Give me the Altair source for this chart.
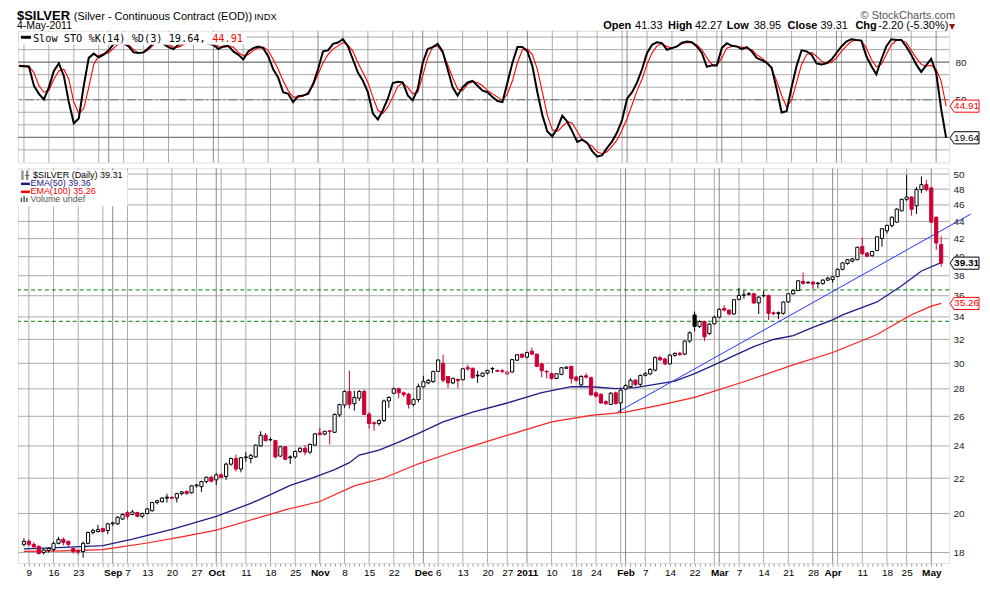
import json
import numpy as np
import pandas as pd
import altair as alt

# ---------------- calendar (x categories) ----------------
HOLIDAYS = ["2010-09-06", "2010-11-25", "2010-12-24", "2010-12-31",
            "2011-01-17", "2011-02-21", "2011-04-22"]
DAYS = [d for d in pd.bdate_range("2010-08-06", "2011-05-04")
        if d.strftime("%Y-%m-%d") not in HOLIDAYS]

TICK_DATES = ["2010-08-09", "2010-08-16", "2010-08-23", "2010-09-01", "2010-09-07", "2010-09-13",
              "2010-09-20", "2010-09-27", "2010-10-01", "2010-10-11", "2010-10-18", "2010-10-25",
              "2010-11-01", "2010-11-08", "2010-11-15", "2010-11-22", "2010-12-01", "2010-12-06",
              "2010-12-13", "2010-12-20", "2010-12-27", "2011-01-03", "2011-01-10", "2011-01-18",
              "2011-01-24", "2011-02-01", "2011-02-07", "2011-02-14", "2011-02-22", "2011-03-01",
              "2011-03-07", "2011-03-14", "2011-03-21", "2011-03-28", "2011-04-01", "2011-04-11",
              "2011-04-18", "2011-04-25", "2011-05-02"]
TICK_LABELS = ["9", "16", "23", "Sep", "7", "13", "20", "27", "Oct", "11", "18", "25",
               "Nov", "8", "15", "22", "Dec", "6", "13", "20", "27", "2011", "10", "18",
               "24", "Feb", "7", "14", "22", "Mar", "7", "14", "21", "28", "Apr", "11",
               "18", "25", "May"]

# ---------------- daily candles ----------------
OPEN = [18.40, 18.55, 18.40, 18.30, 18.00, 18.10, 18.15, 18.45, 18.65, 18.55,
        18.20, 18.08, 18.05, 18.45, 19.00, 19.05, 19.20, 19.10, 19.45, 19.45,
        19.70, 20.05, 19.95, 20.05, 19.85, 20.00, 20.15, 20.60, 20.65, 20.90,
        20.88, 20.85, 21.10, 21.22, 21.15, 21.55, 21.50, 21.80, 22.05, 21.90,
        22.20, 22.10, 22.85, 23.20, 22.55, 23.25, 23.20, 23.30, 24.00, 24.70,
        24.40, 24.35, 23.35, 23.95, 23.30, 23.30, 23.65, 23.85, 23.60, 24.05,
        24.85, 24.78, 25.00, 24.90, 26.10, 26.80, 27.80, 26.90, 27.30, 27.80,
        26.15, 25.55, 25.50, 25.70, 27.10, 27.67, 28.00, 27.70, 27.60, 26.85,
        27.20, 28.15, 28.45, 28.55, 29.35, 30.00, 28.95, 28.45, 28.72, 28.70,
        29.65, 29.60, 29.05, 28.97, 29.22, 29.55, 29.42, 29.40, 29.15, 29.30,
        30.25, 30.75, 30.50, 31.00, 30.75, 29.95, 29.35, 29.17, 28.80, 29.12,
        29.60, 29.75, 28.90, 28.30, 29.00, 28.85, 27.70, 27.60, 27.05, 26.85,
        27.70, 26.95, 27.98, 28.16, 28.66, 28.34, 29.04, 29.15, 29.45, 30.45,
        30.35, 29.95, 30.65, 30.82, 30.75, 31.86, 34.18, 33.14, 33.58, 32.51,
        33.37, 33.97, 34.79, 34.63, 34.27, 35.65, 36.05, 36.15, 36.19, 35.31,
        36.00, 36.03, 34.38, 34.30, 34.33, 35.40, 36.19, 36.51, 37.42, 37.28,
        37.35, 37.25, 37.20, 37.55, 37.61, 37.92, 38.66, 39.27, 39.52, 39.68,
        41.11, 40.40, 40.11, 40.68, 42.02, 42.90, 43.50, 43.91, 45.28, 46.70,
        46.99, 45.89, 47.95, 48.58, 48.16, 44.50, 41.33]
HIGH = [18.70, 18.65, 18.50, 18.35, 18.20, 18.25, 18.55, 18.78, 18.75, 18.60,
        18.25, 18.15, 18.55, 19.05, 19.20, 19.40, 19.25, 19.50, 19.55, 19.85,
        20.00, 20.15, 20.20, 20.10, 20.05, 20.30, 20.65, 20.75, 20.90, 21.10,
        20.95, 21.15, 21.25, 21.30, 21.60, 21.65, 21.85, 22.10, 22.15, 22.30,
        22.30, 22.95, 23.25, 23.45, 23.30, 23.60, 23.50, 24.10, 24.97, 24.85,
        24.55, 24.40, 24.00, 24.00, 23.40, 23.70, 23.90, 24.05, 24.15, 24.85,
        25.20, 25.00, 25.05, 26.20, 26.90, 27.90, 29.40, 27.85, 27.90, 27.95,
        26.30, 25.65, 25.80, 27.20, 27.45, 28.10, 28.10, 27.80, 27.70, 27.30,
        28.40, 29.00, 28.75, 29.40, 30.30, 30.70, 29.00, 28.85, 28.80, 29.60,
        29.90, 29.65, 29.40, 29.25, 29.45, 29.70, 29.50, 29.55, 29.35, 30.35,
        30.75, 30.80, 30.95, 31.30, 30.80, 30.05, 29.45, 29.25, 29.20, 29.70,
        29.75, 29.80, 29.00, 29.05, 29.20, 28.95, 27.80, 27.65, 27.15, 27.75,
        27.80, 27.95, 28.35, 28.80, 28.75, 29.10, 29.30, 29.60, 30.55, 30.60,
        30.45, 30.75, 30.90, 30.95, 31.90, 32.70, 34.50, 33.70, 33.65, 33.45,
        34.10, 34.80, 35.09, 34.70, 35.70, 36.77, 36.51, 36.35, 36.30, 35.95,
        36.51, 36.10, 34.50, 34.50, 35.45, 36.25, 36.60, 37.55, 38.32, 37.45,
        37.45, 37.35, 37.65, 37.90, 37.95, 38.75, 39.40, 39.75, 39.85, 41.10,
        42.10, 40.50, 40.65, 42.25, 43.20, 43.60, 44.60, 45.60, 46.80, 49.88,
        47.10, 48.30, 49.67, 49.23, 48.30, 44.60, 42.27]
LOW = [18.30, 18.30, 18.20, 17.90, 17.90, 18.00, 18.05, 18.40, 18.35, 18.25,
       17.95, 17.90, 17.75, 18.40, 18.90, 19.00, 19.00, 18.90, 19.35, 19.40,
       19.65, 19.70, 19.90, 19.80, 19.75, 19.95, 20.10, 20.50, 20.60, 20.60,
       20.80, 20.60, 21.00, 21.05, 21.10, 21.45, 21.20, 21.70, 21.75, 21.60,
       22.00, 21.90, 22.75, 22.40, 22.35, 23.00, 22.90, 23.25, 23.95, 24.30,
       24.30, 23.20, 23.30, 23.10, 22.85, 23.20, 23.55, 23.40, 23.50, 24.00,
       24.70, 24.70, 24.10, 24.85, 25.95, 26.60, 26.55, 26.40, 27.10, 26.10,
       25.15, 25.00, 25.35, 25.60, 26.60, 27.60, 27.30, 27.40, 26.55, 26.70,
       27.00, 28.10, 28.35, 28.45, 29.30, 28.50, 28.05, 28.35, 28.05, 28.65,
       29.40, 28.80, 28.45, 28.90, 29.10, 29.20, 29.30, 29.20, 29.10, 29.25,
       30.20, 30.40, 30.40, 30.70, 29.70, 28.90, 28.80, 28.70, 28.75, 29.05,
       29.55, 28.40, 28.55, 28.20, 28.80, 27.50, 27.35, 26.90, 26.80, 26.80,
       26.85, 26.25, 27.90, 28.05, 28.20, 28.16, 28.95, 29.05, 29.35, 30.20,
       29.85, 29.90, 30.55, 30.60, 30.65, 31.70, 32.70, 33.00, 31.85, 32.40,
       33.30, 33.90, 34.50, 34.15, 34.20, 35.55, 35.71, 36.00, 35.20, 34.27,
       35.85, 33.73, 34.15, 33.79, 34.20, 35.30, 36.10, 36.45, 37.10, 37.15,
       36.67, 36.70, 37.10, 37.45, 37.30, 37.85, 38.55, 39.15, 39.40, 39.60,
       40.20, 39.95, 40.00, 40.60, 41.10, 42.58, 43.30, 43.80, 45.20, 46.50,
       44.69, 44.89, 47.50, 47.70, 43.80, 40.75, 38.95]
CLOSE = [18.55, 18.40, 18.28, 17.95, 18.12, 18.20, 18.45, 18.65, 18.50, 18.40,
         18.05, 18.02, 18.45, 19.00, 19.10, 19.15, 19.05, 19.45, 19.50, 19.80,
         19.95, 19.85, 20.08, 19.85, 20.00, 20.25, 20.60, 20.70, 20.85, 20.85,
         20.84, 21.10, 21.20, 21.10, 21.55, 21.60, 21.80, 22.05, 21.82, 22.20,
         22.05, 22.85, 23.20, 22.55, 23.25, 23.30, 23.38, 24.05, 24.70, 24.35,
         24.42, 23.30, 23.95, 23.15, 23.25, 23.65, 23.85, 23.60, 24.10, 24.80,
         24.75, 24.97, 24.95, 26.13, 26.83, 27.80, 26.85, 27.35, 27.80, 26.13,
         25.50, 25.48, 25.70, 27.10, 27.35, 28.00, 27.70, 27.58, 26.85, 27.20,
         28.18, 28.55, 28.65, 29.35, 30.27, 28.66, 28.45, 28.80, 28.62, 29.56,
         29.55, 28.85, 29.00, 29.22, 29.43, 29.58, 29.36, 29.35, 29.30, 30.30,
         30.70, 30.50, 30.88, 30.75, 29.75, 29.40, 29.30, 28.80, 29.17, 29.64,
         29.69, 28.80, 28.66, 28.95, 28.90, 27.55, 27.45, 26.95, 26.90, 27.67,
         26.90, 27.90, 28.25, 28.66, 28.34, 29.04, 29.17, 29.51, 30.48, 30.27,
         29.95, 30.67, 30.81, 30.72, 31.86, 32.57, 33.14, 33.58, 32.22, 33.35,
         33.97, 34.70, 34.63, 34.27, 35.62, 36.03, 36.09, 36.20, 35.31, 35.87,
         36.03, 34.33, 34.30, 34.39, 35.40, 36.19, 36.51, 37.48, 37.22, 37.32,
         37.15, 37.20, 37.55, 37.75, 37.88, 38.66, 39.34, 39.68, 39.76, 41.03,
         40.32, 40.04, 40.57, 42.21, 43.14, 43.53, 44.50, 45.48, 46.70, 46.99,
         45.48, 47.95, 48.58, 47.95, 43.91, 41.51, 39.31]

# ---------------- slow stochastic ----------------
STO_K = [76.9, 76.8, 76.3, 61.2, 54.7, 50.3, 59.9, 73.0, 79.0, 69.0,
         48.2, 31.2, 35.1, 61.2, 83.4, 86.8, 83.9, 86.0, 89.4, 94.6,
         95.0, 95.0, 92.5, 87.8, 87.3, 87.8, 91.2, 95.6, 98.0, 94.6,
         92.0, 90.4, 93.8, 95.0, 97.0, 98.0, 98.0, 96.0, 94.6, 93.8,
         90.4, 92.5, 93.0, 88.6, 86.0, 82.1, 88.6, 91.2, 92.5, 91.2,
         84.7, 74.3, 67.7, 56.0, 54.7, 48.2, 52.9, 53.4, 54.7, 62.5,
         74.3, 88.6, 89.4, 94.6, 95.6, 98.3, 92.5, 82.1, 71.7, 65.1,
         56.0, 39.0, 34.3, 41.6, 50.8, 63.3, 64.3, 63.8, 53.4, 49.5,
         58.6, 79.5, 90.4, 92.0, 94.6, 88.6, 74.3, 59.9, 53.4, 59.9,
         63.8, 65.1, 61.2, 57.3, 56.0, 52.1, 49.0, 48.2, 63.8, 79.5,
         92.0, 92.0, 88.6, 76.9, 56.0, 37.7, 24.7, 20.8, 27.3, 37.2,
         32.5, 24.7, 16.3, 18.2, 15.6, 9.0, 4.6, 5.8, 11.6, 16.8,
         24.0, 33.8, 50.8, 56.0, 63.8, 74.3, 87.3, 93.8, 95.9, 95.1,
         89.9, 91.2, 92.5, 95.6, 96.4, 95.9, 92.5, 87.3, 76.3, 77.4,
         77.4, 91.2, 95.1, 93.0, 92.5, 90.4, 92.0, 88.6, 83.4, 81.6,
         79.5, 75.6, 58.6, 39.8, 40.9, 59.9, 76.9, 89.4, 88.6, 86.0,
         79.0, 78.2, 79.0, 82.1, 87.3, 92.5, 96.4, 98.3, 97.7, 97.2,
         84.7, 76.9, 70.3, 82.1, 92.5, 98.3, 97.7, 97.7, 92.5, 86.0,
         78.2, 72.2, 77.4, 82.6, 71.7, 42.9, 19.64]
STO_D = [77.4, 77.2, 76.9, 71.7, 61.2, 56.0, 57.3, 66.4, 73.0, 74.3,
         66.4, 48.2, 39.0, 43.0, 59.9, 78.2, 85.2, 86.8, 87.3, 91.2,
         94.6, 95.0, 93.8, 89.9, 87.3, 87.8, 89.9, 93.8, 96.0, 96.4,
         93.8, 92.0, 92.0, 93.8, 95.5, 97.0, 97.5, 96.5, 95.0, 94.6,
         92.5, 92.0, 92.5, 92.0, 87.8, 85.2, 86.0, 89.4, 91.2, 92.0,
         89.4, 82.1, 74.3, 65.1, 57.3, 52.1, 52.1, 52.9, 56.0, 61.2,
         70.3, 79.5, 86.0, 90.4, 93.0, 95.6, 93.8, 88.6, 79.5, 71.7,
         63.8, 52.1, 41.6, 39.0, 44.3, 52.1, 60.7, 63.3, 59.9, 54.7,
         56.0, 69.0, 83.4, 92.0, 93.0, 87.3, 78.2, 67.7, 58.6, 57.3,
         62.5, 64.3, 63.8, 61.2, 57.3, 54.7, 52.1, 49.5, 54.7, 65.1,
         79.5, 89.9, 90.4, 86.0, 74.3, 56.0, 37.7, 26.0, 24.7, 28.6,
         32.5, 31.2, 24.7, 18.2, 15.0, 13.0, 8.5, 6.9, 8.5, 13.0,
         18.0, 26.0, 35.0, 46.0, 57.3, 66.4, 78.2, 87.3, 93.0, 94.6,
         92.5, 91.2, 92.5, 94.6, 95.6, 95.6, 93.8, 89.9, 83.4, 78.2,
         77.4, 83.4, 91.2, 92.5, 92.5, 92.0, 91.2, 89.9, 86.0, 83.4,
         80.0, 74.3, 65.1, 53.4, 44.3, 49.5, 63.8, 78.2, 86.0, 87.8,
         84.7, 80.8, 79.0, 80.0, 83.4, 88.6, 93.0, 96.4, 97.7, 97.2,
         91.2, 82.1, 76.3, 78.2, 86.0, 93.8, 97.2, 97.7, 95.6, 89.4,
         83.4, 78.2, 76.9, 77.4, 74.3, 65.1, 44.91]

# ---------------- moving averages (read at sample days) ----------------
EMA50_DAY = [0, 8, 16, 22, 30, 39, 46, 50, 54, 58, 63, 66, 68, 72, 76, 80, 85, 91, 98,
             105, 111, 115, 120, 124, 128, 132, 136, 140, 144, 148, 152, 156, 160, 164,
             166, 173, 178, 182, 186]
EMA50_VAL = [18.18, 18.25, 18.34, 18.66, 19.16, 19.85, 20.55, 21.05, 21.58, 21.96, 22.51,
             22.94, 23.42, 23.73, 24.25, 24.83, 25.61, 26.30, 26.95, 27.72, 28.16, 28.16,
             28.02, 28.09, 28.34, 28.59, 29.17, 29.87, 30.62, 31.38, 31.99, 32.33, 33.05,
             33.73, 34.18, 35.40, 36.99, 38.49, 39.36]
EMA100_DAY = [0, 8, 16, 25, 32, 39, 46, 53, 60, 67, 73, 80, 86, 92, 100, 107, 115, 122,
              129, 136, 146, 156, 164, 173, 180, 184, 186]
EMA100_VAL = [18.06, 18.08, 18.14, 18.47, 18.78, 19.12, 19.65, 20.20, 20.66, 21.55, 22.01,
              22.87, 23.50, 24.10, 24.90, 25.61, 26.07, 26.30, 26.80, 27.36, 28.54, 29.87,
              30.89, 32.42, 34.20, 35.00, 35.26]

TREND_DAY = [120.4, 192.0]
TREND_VAL = [26.3, 44.88]
SUPPORT_LEVELS = [36.57, 33.6]

PRICE_TICKS = list(range(18, 51, 2))
STO_TICKS = list(range(10, 101, 10))

# ---------------- derived tables ----------------
n = len(CLOSE)
day_pos = {d.strftime("%Y-%m-%d"): i for i, d in enumerate(DAYS)}
tick_idx = [day_pos[d] for d in TICK_DATES]
label_by_day = [""] * n
for i, lab in zip(tick_idx, TICK_LABELS):
    if i < n:
        label_by_day[i] = lab
month_idx = [i for i in range(1, min(n, len(DAYS))) if DAYS[i].month != DAYS[i - 1].month]
week_idx = [i for i in range(1, min(n, len(DAYS)))
            if DAYS[i].weekday() < DAYS[i - 1].weekday() and i not in month_idx]

candles = pd.DataFrame({"i": range(n), "o": OPEN, "h": HIGH, "l": LOW, "c": CLOSE})
prev = candles["c"].shift(1).fillna(candles["o"])
RED = "#cc0033"
candles["edge"] = np.where(candles["c"] >= prev, "#000000", RED)
candles["body"] = np.where(candles["c"] >= candles["o"], "#ffffff", candles["edge"])

sto = pd.DataFrame({"i": range(n), "k": STO_K, "d": STO_D})
ema50 = pd.DataFrame({"i": EMA50_DAY, "v": EMA50_VAL})
ema100 = pd.DataFrame({"i": EMA100_DAY, "v": EMA100_VAL})
trend = pd.DataFrame({"i": TREND_DAY, "v": TREND_VAL})
support = pd.DataFrame({"v": SUPPORT_LEVELS})
weeks = pd.DataFrame({"wk": [float(v) for v in week_idx]})
months = pd.DataFrame({"i": month_idx})
hgrid_p = pd.DataFrame({"gp": [float(v) for v in PRICE_TICKS]})
hgrid_s = pd.DataFrame({"gs": [float(v) for v in STO_TICKS]})
ONE = pd.DataFrame({"a": [0]})

# ---------------- scales / axes ----------------
GRID = "#aaaaaa"
MONTH_GRID = "#8a8a8a"
W = 934
H_TOP = 132
H_PRICE = 396
XS = alt.Scale(domain=[-0.2, 186.6], nice=False, zero=False)
X_AXIS = alt.Axis(values=list(range(n)), labelExpr=json.dumps(label_by_day) + "[datum.value]",
                  labelFontWeight={"condition": {"test": "indexof(%s, datum.value) >= 0" % json.dumps(month_idx),
                                                 "value": "bold"}, "value": "normal"},
                  tickSize=3, tickColor="#a0a0a0", domain=False, grid=False, labelFontSize=10,
                  labelPadding=1, labelOverlap=False, labelFlush=False, title=None, labelColor="#000000")
PS = alt.Scale(type="log", domain=[17.49, 50.77], nice=False, zero=False)
P_AXIS = alt.Axis(orient="right", values=PRICE_TICKS, format="d", grid=False,
                  tickSize=0, domain=False, labelPadding=4, labelFontSize=10, title=None,
                  labelColor="#222222")
SS = alt.Scale(domain=[0, 105], nice=False, zero=False)
S_AXIS = alt.Axis(orient="right", values=STO_TICKS,
                  labelExpr="datum.value == 80 || datum.value == 50 ? datum.label : ''",
                  grid=False, tickSize=0, domain=False, labelPadding=6,
                  labelFontSize=10, title=None, labelColor="#222222")


def xt(f):
    return alt.X(f, scale=XS, axis=None)


def xp(f):
    return alt.X(f, scale=XS, axis=X_AXIS)


def yp(f):
    return alt.Y(f, scale=PS, axis=P_AXIS)


def ys(f):
    return alt.Y(f, scale=SS, axis=S_AXIS)


def txt(text, x, y, size=10, weight="normal", color="#000000", font=None, align="left"):
    kw = dict(text=text, align=align, baseline="alphabetic", fontSize=size,
              fontWeight=weight, color=color)
    if font:
        kw["font"] = font
    return alt.Chart(ONE).mark_text(**kw).encode(x=alt.value(x), y=alt.value(y))


def hbar(x1, x2, y, color, width, opacity=1.0):
    return alt.Chart(ONE).mark_rule(color=color, strokeWidth=width, opacity=opacity).encode(
        x=alt.value(x1), x2=alt.value(x2), y=alt.value(y))


def box(x1, x2, y1, y2):
    return alt.Chart(ONE).mark_rect(color="white").encode(
        x=alt.value(x1), x2=alt.value(x2), y=alt.value(y1), y2=alt.value(y2))


TAG = "M-1,0L-0.72,-0.42L1,-0.42L1,0.42L-0.72,0.42Z"

# ---------------- top panel: slow stochastic ----------------
top_layers = [
    alt.Chart(hgrid_s).mark_rule(color=GRID, strokeWidth=1).encode(y=ys("gs:Q")),
    alt.Chart(weeks).mark_rule(color=GRID, strokeWidth=1).encode(x=xt("wk:Q")),
    alt.Chart(months).mark_rule(color=MONTH_GRID, strokeWidth=1).encode(x=xt("i:Q")),
    alt.Chart(pd.DataFrame({"v": [80, 20]})).mark_rule(color="#707070", strokeWidth=1).encode(y=ys("v:Q")),
    alt.Chart(pd.DataFrame({"v": [50]})).mark_rule(color="#707070", strokeWidth=1,
                                                   strokeDash=[9, 3, 2, 3]).encode(y=ys("v:Q")),
    alt.Chart(sto).mark_line(color="#ff0000", strokeWidth=1.1, clip=True).encode(x=xt("i:Q"), y=ys("d:Q")),
    alt.Chart(sto).mark_line(color="#000000", strokeWidth=2, clip=True).encode(x=xt("i:Q"), y=ys("k:Q")),
    box(1, 229, 1, 14),
    hbar(3, 13, 6.5, "#000000", 3),
    txt("Slow STO %K(14) %D(3) 19.64, ", 15, 11, size=10.3, font="DejaVu Sans Mono"),
    txt("44.91", 194.8, 11, size=10.3, color="#ff0000", font="DejaVu Sans Mono"),
]
tag_top = pd.DataFrame({"v": [44.91, 19.64], "t": ["44.91", "19.64"], "c": ["#ff0000", "#000000"]})
top_layers += [
    alt.Chart(tag_top).mark_point(shape=TAG, size=841, filled=False, fill="white", fillOpacity=1,
                                  strokeWidth=1, opacity=1).encode(
        x=alt.value(949.5), y=ys("v:Q"), stroke=alt.Stroke("c:N", scale=None)),
    alt.Chart(tag_top).mark_text(align="center", baseline="middle", fontSize=10).encode(
        x=alt.value(951.5), y=ys("v:Q"), text="t:N", color=alt.Color("c:N", scale=None)),
]
# header (above the top panel)
top_layers += [
    hbar(0, 1, -21, "white", 1, opacity=0),
    txt("$SILVER", -1, -11, size=13, weight="bold"),
    txt("(Silver - Continuous Contract (EOD))", 56, -11, size=11),
    txt("INDX", 237, -11, size=9.5),
    txt("4-May-2011", -1, -2, size=10.5),
    txt("\u00a9 StockCharts.com", 940, -12, size=11, color="#555555", align="right"),
]
HEADER = [("Open", 587, "bold"), ("41.33", 619, "normal"), ("High", 652, "bold"),
          ("42.27", 679, "normal"), ("Low", 711, "bold"), ("38.95", 738, "normal"),
          ("Close", 772, "bold"), ("39.31", 805, "normal"), ("Chg", 840, "bold"),
          ("-2.20 (-5.30%)", 863, "normal")]
for t, x, w in HEADER:
    top_layers.append(txt(t, x, -2, size=11, weight=w))
top_layers.append(txt("\u25bc", 934, -2, size=8, color="#8b1a1a", font="DejaVu Sans"))

top = alt.layer(*top_layers).properties(width=W, height=H_TOP)

# ---------------- price panel ----------------
price_layers = [
    alt.Chart(hgrid_p).mark_rule(color=GRID, strokeWidth=1).encode(y=yp("gp:Q")),
    alt.Chart(weeks).mark_rule(color=GRID, strokeWidth=1).encode(x=xp("wk:Q")),
    alt.Chart(months).mark_rule(color=MONTH_GRID, strokeWidth=1).encode(x=xp("i:Q")),
    alt.Chart(support).mark_rule(color="#008000", strokeWidth=1, strokeDash=[4, 3]).encode(y=yp("v:Q")),
    alt.Chart(ema100).mark_line(color="#ff2020", strokeWidth=1.2, clip=True).encode(x=xp("i:Q"), y=yp("v:Q")),
    alt.Chart(ema50).mark_line(color="#1c1c8a", strokeWidth=1.3, clip=True).encode(x=xp("i:Q"), y=yp("v:Q")),
    alt.Chart(trend).mark_line(color="#2233ff", strokeWidth=1, clip=False).encode(x=xp("i:Q"), y=yp("v:Q")),
    alt.Chart(candles).mark_rule(strokeWidth=1, clip=True).encode(
        x=xp("i:Q"), y=yp("l:Q"), y2="h:Q", color=alt.Color("edge:N", scale=None)),
    alt.Chart(candles).mark_bar(size=3.2, strokeWidth=1, clip=True).encode(
        x=xp("i:Q"), y=yp("o:Q"), y2="c:Q", fill=alt.Fill("body:N", scale=None),
        stroke=alt.Stroke("edge:N", scale=None)),
    box(0, 110, 2, 38),
    txt("\u2551\u256b", 2, 10, size=8, color="#333333", font="DejaVu Sans"),
    txt("$SILVER (Daily) 39.31", 15, 10, size=9),
    hbar(3, 12, 15.5, "#1c1c8a", 2.5),
    txt("EMA(50) 39.36", 12.5, 18, size=9, color="#1c1c8a"),
    hbar(3, 12, 23.5, "#ff0000", 2.5),
    txt("EMA(100) 35.26", 12.5, 26, size=9, color="#ff0000"),
    txt("\u0131l\u0131", 2, 34, size=8, weight="bold", color="#555555", font="DejaVu Sans"),
    txt("Volume undef", 12.5, 34, size=9, color="#555555"),
]
tag_p = pd.DataFrame({"v": [39.31, 35.26], "t": ["39.31", "35.26"], "c": ["#000000", "#ff0000"]})
price_layers += [
    alt.Chart(tag_p).mark_point(shape=TAG, size=841, filled=False, fill="white", fillOpacity=1,
                                strokeWidth=1, opacity=1).encode(
        x=alt.value(949.5), y=yp("v:Q"), stroke=alt.Stroke("c:N", scale=None)),
    alt.Chart(tag_p.iloc[[0]]).mark_text(align="center", baseline="middle", fontSize=10,
                                          fontWeight="bold").encode(
        x=alt.value(951.5), y=yp("v:Q"), text="t:N", color=alt.Color("c:N", scale=None)),
    alt.Chart(tag_p.iloc[[1]]).mark_text(align="center", baseline="middle", fontSize=10).encode(
        x=alt.value(951.5), y=yp("v:Q"), text="t:N", color=alt.Color("c:N", scale=None)),
]
price = alt.layer(*price_layers).properties(width=W, height=H_PRICE)

chart = alt.vconcat(top, price, spacing=6, bounds="flush").resolve_scale(
    y="independent").properties(
    padding={"left": 8, "top": 0, "right": 0, "bottom": 0}
).configure_view(stroke="#999999", strokeWidth=1).configure(
    font="Liberation Sans", background="white")

chart.save("out.html", embed_options={"renderer": "svg", "actions": False})
